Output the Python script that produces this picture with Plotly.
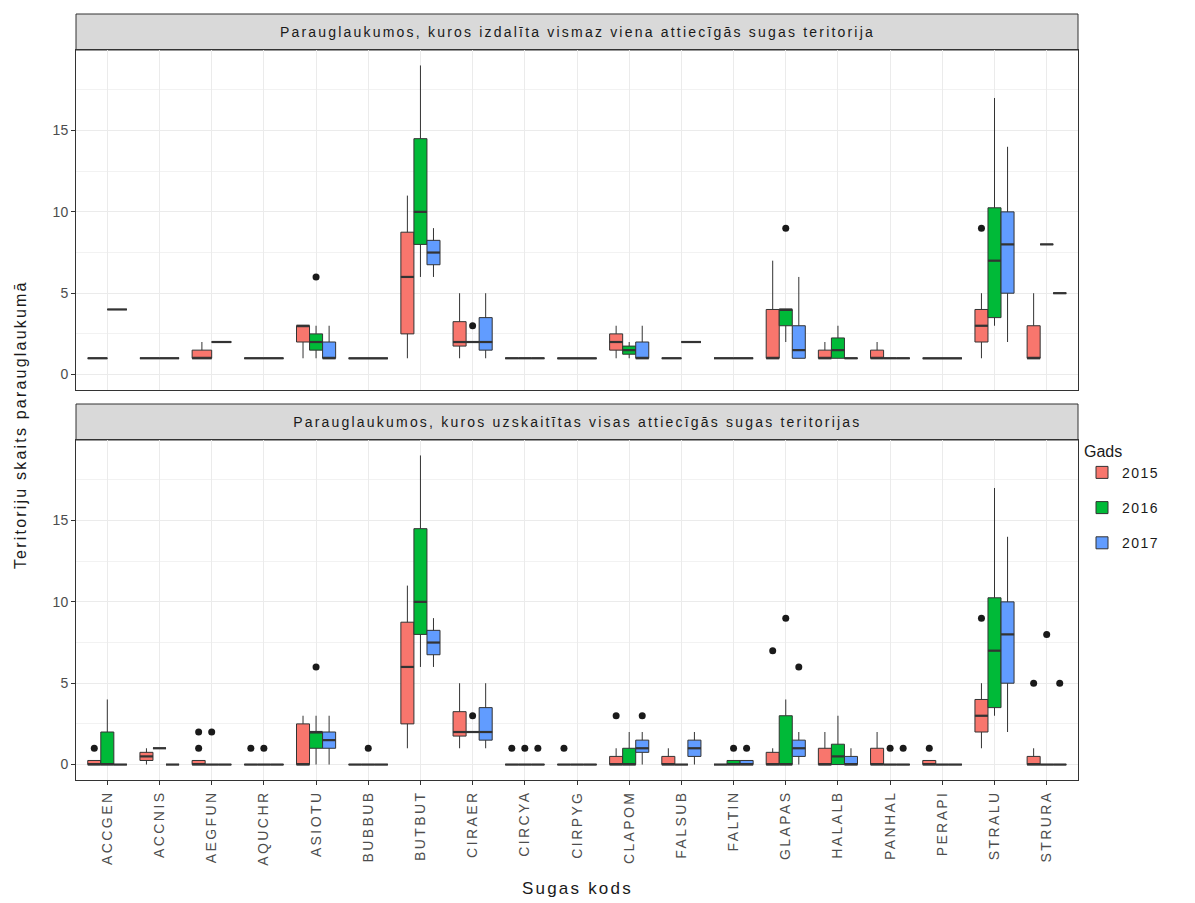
import plotly.graph_objects as go

species = ["ACCGEN", "ACCNIS", "AEGFUN", "AQUCHR", "ASIOTU", "BUBBUB", "BUTBUT",
           "CIRAER", "CIRCYA", "CIRPYG", "CLAPOM", "FALSUB", "FALTIN", "GLAPAS",
           "HALALB", "PANHAL", "PERAPI", "STRALU", "STRURA"]
years = [2015, 2016, 2017]
year_colors = ["#F8766D", "#00BA38", "#619CFF"]

# box stats: (lower whisker, q1, median, q3, upper whisker); single number = all equal; None = absent
top_2015 = [1, 1, (1, 1, 1, 1.5, 2), 1, (1, 2, 3, 3, 3), None, (1, 2.5, 6, 8.75, 11),
            (1, 1.75, 2, 3.25, 5), 1, 1, (1, 1.5, 2, 2.5, 3), 1, None, (1, 1, 1, 4, 7),
            (1, 1, 1, 1.5, 2), (1, 1, 1, 1.5, 2), 1, (1, 2, 3, 4, 5), (1, 1, 1, 3, 5)]
top_2016 = [4, 1, 2, 1, (1, 1.5, 2, 2.5, 3), 1, (6, 8, 10, 14.5, 19),
            2, 1, None, (1, 1.25, 1.5, 1.75, 2), None, 1, (2, 3, 4, 4, 4),
            (1, 1, 1.5, 2.25, 3), 1, None, (3, 3.5, 7, 10.25, 17), 8]
top_2017 = [None, None, None, None, (1, 1, 1, 2, 3), None, (6, 6.75, 7.5, 8.25, 9),
            (1, 1.5, 2, 3.5, 5), 1, None, (1, 1, 1, 2, 3), 2, 1, (1, 1, 1.5, 3, 6),
            1, 1, None, (2, 5, 8, 10, 14), 5]
top_outliers = [("ASIOTU", 2016, 6), ("CIRAER", 2016, 3), ("GLAPAS", 2016, 9),
                ("STRALU", 2015, 9)]

bot_2015 = [(0, 0, 0, 0.25, 0.25), (0, 0.25, 0.5, 0.75, 1), (0, 0, 0, 0.25, 0.25), 0,
            (0, 0, 0, 2.5, 3), 0, (1, 2.5, 6, 8.75, 11), (1, 1.75, 2, 3.25, 5), 0, 0,
            (0, 0, 0, 0.5, 1), (0, 0, 0, 0.5, 1), 0, (0, 0, 0, 0.75, 1), (0, 0, 0, 1, 2),
            (0, 0, 0, 1, 2), (0, 0, 0, 0.25, 0.25), (1, 2, 3, 4, 5), (0, 0, 0, 0.5, 1)]
bot_2016 = [(0, 0, 0, 2, 4), 1, 0, 0, (0, 1, 2, 2, 3), 0, (6, 8, 10, 14.5, 19), 2, 0, 0,
            (0, 0, 0, 1, 2), 0, (0, 0, 0, 0.25, 0.25), (0, 0, 0, 3, 4), (0, 0, 0.5, 1.25, 3),
            0, 0, (3, 3.5, 7, 10.25, 17), 0]
bot_2017 = [0, 0, 0, 0, (0, 1, 1.5, 2, 3), 0, (6, 6.75, 7.5, 8.25, 9), (1, 1.5, 2, 3.5, 5),
            0, 0, (0, 0.75, 1, 1.5, 2), (0, 0.5, 1, 1.5, 2), (0, 0, 0, 0.25, 0.25),
            (0, 0.5, 1, 1.5, 2), (0, 0, 0, 0.5, 1), 0, 0, (2, 5, 8, 10, 14), 0]
bot_outliers = [("ACCGEN", 2015, 1), ("AEGFUN", 2015, 1), ("AEGFUN", 2015, 2),
                ("AEGFUN", 2016, 2), ("AQUCHR", 2015, 1), ("AQUCHR", 2016, 1),
                ("ASIOTU", 2016, 6), ("BUBBUB", 2016, 1), ("CIRAER", 2016, 3),
                ("CIRCYA", 2015, 1), ("CIRCYA", 2016, 1), ("CIRCYA", 2017, 1),
                ("CIRPYG", 2015, 1), ("CLAPOM", 2015, 3), ("CLAPOM", 2017, 3),
                ("FALTIN", 2016, 1), ("FALTIN", 2017, 1), ("GLAPAS", 2015, 7),
                ("GLAPAS", 2016, 9), ("GLAPAS", 2017, 6), ("PANHAL", 2016, 1),
                ("PANHAL", 2017, 1), ("PERAPI", 2015, 1), ("STRALU", 2015, 9),
                ("STRURA", 2015, 5), ("STRURA", 2016, 8), ("STRURA", 2017, 5)]

strip_titles = ["Parauglaukumos, kuros izdalīta vismaz viena attiecīgās sugas teritorija",
                "Parauglaukumos, kuros uzskaitītas visas attiecīgās sugas teritorijas"]
x_title = "Sugas kods"
y_title = "Teritoriju skaits parauglaukumā"
legend_title = "Gads"

facets = [([top_2015, top_2016, top_2017], top_outliers),
          ([bot_2015, bot_2016, bot_2017], bot_outliers)]

DODGE = 0.75
LINE = "#333333"


def expand(v):
    if v is None:
        return None
    if isinstance(v, (int, float)):
        return (v, v, v, v, v)
    return v


def dodge(series, i, k):
    present = [j for j in range(3) if series[j][i] is not None]
    n = len(present)
    w = DODGE / n
    pos = (i + 1) - DODGE / 2 + w * (present.index(k) + 0.5)
    return pos, w


fig = go.Figure()
legend_done = set()
for f, (series, outliers) in enumerate(facets):
    xa = "x" if f == 0 else "x2"
    ya = "y" if f == 0 else "y2"
    med_x, med_y = [], []
    for k, yr in enumerate(years):
        for i, sp in enumerate(species):
            st = expand(series[k][i])
            if st is None:
                continue
            pos, w = dodge(series, i, k)
            lo, q1, med, q3, hi = st
            show = yr not in legend_done
            legend_done.add(yr)
            fig.add_trace(go.Box(
                x=[pos], q1=[q1], median=[med], q3=[q3], lowerfence=[lo], upperfence=[hi],
                width=w * 0.999, whiskerwidth=0, boxpoints=False,
                fillcolor=year_colors[k], line=dict(color=LINE, width=1),
                name=str(yr), legendgroup=str(yr), showlegend=show,
                xaxis=xa, yaxis=ya, hoverinfo="skip"))
            med_x += [pos - w / 2, pos + w / 2, None]
            med_y += [med, med, None]
    fig.add_trace(go.Scatter(x=med_x, y=med_y, mode="lines",
                             line=dict(color=LINE, width=2.2), showlegend=False,
                             xaxis=xa, yaxis=ya, hoverinfo="skip"))
    ox, oy = [], []
    for sp, yr, val in outliers:
        i = species.index(sp)
        k = years.index(yr)
        pos, w = dodge(series, i, k)
        ox.append(pos)
        oy.append(val)
    fig.add_trace(go.Scatter(x=ox, y=oy, mode="markers",
                             marker=dict(color="#1A1A1A", size=7), showlegend=False,
                             xaxis=xa, yaxis=ya, hoverinfo="skip"))

# layout geometry
L, R, T, B = 76, 117, 50, 123
W, H = 1195, 903
ph = H - T - B
top_dom = [(780 - 390) / ph, 1.0]
bot_dom = [0.0, (780 - 440) / ph]

axis_common = dict(showline=True, mirror=True, linecolor=LINE, linewidth=1,
                   showgrid=True, gridcolor="#EBEBEB", gridwidth=1, zeroline=False)
xcommon = dict(range=[0.4, 19.6], tickvals=list(range(1, 20)), ticktext=species, **axis_common)
ycommon = dict(range=[-0.95, 19.95], tickvals=[0, 5, 10, 15], ticks="outside", ticklen=4,
               tickcolor=LINE, tickfont=dict(size=14, color="#4D4D4D"),
               minor=dict(dtick=2.5, tick0=0, showgrid=True, gridcolor="#F2F2F2", gridwidth=0.6),
               **axis_common)

fig.update_layout(
    width=W, height=H,
    margin=dict(l=L, r=R, t=T, b=B),
    paper_bgcolor="white", plot_bgcolor="white",
    font=dict(family="Liberation Sans, Arial, sans-serif", color="#1A1A1A"),
    boxmode="overlay",
    xaxis=dict(domain=[0, 1], anchor="y", showticklabels=False, ticks="", **xcommon),
    xaxis2=dict(domain=[0, 1], anchor="y2", matches="x", showticklabels=True, ticks="outside",
                ticklen=4, tickcolor=LINE, tickangle=-90,
                tickfont=dict(size=14, color="#4D4D4D"), **xcommon),
    yaxis=dict(domain=top_dom, anchor="x", **ycommon),
    yaxis2=dict(domain=bot_dom, anchor="x2", **ycommon),
    legend=dict(x=1.004, y=(780 - 436) / ph, xanchor="left", yanchor="top",
                title=dict(text=legend_title, font=dict(size=16, color="#1A1A1A")),
                font=dict(size=14, color="#1A1A1A"), traceorder="grouped",
                tracegroupgap=14, bgcolor="rgba(0,0,0,0)"),
)

shapes = []
annotations = []
for f, (ytop_px, ybot_px) in enumerate([(14, 50), (404, 440)]):
    y0 = (780 - ybot_px) / ph
    y1 = (780 - ytop_px) / ph
    shapes.append(dict(type="rect", xref="paper", yref="paper", x0=0, x1=1, y0=y0, y1=y1,
                       fillcolor="#D9D9D9", line=dict(color=LINE, width=1), layer="below"))
    annotations.append(dict(text=strip_titles[f], xref="paper", yref="paper", x=0.5,
                            y=(y0 + y1) / 2, showarrow=False,
                            font=dict(size=14, color="#1A1A1A"), xanchor="center",
                            yanchor="middle"))
annotations.append(dict(text=x_title, xref="paper", yref="paper", x=0.5,
                        y=(780 - 888) / ph, showarrow=False, font=dict(size=17),
                        xanchor="center", yanchor="middle"))
annotations.append(dict(text=y_title, xref="paper", yref="paper", x=(20 - L) / (W - L - R),
                        y=(780 - 425) / ph, showarrow=False, font=dict(size=16),
                        textangle=-90, xanchor="center", yanchor="middle"))
fig.update_layout(shapes=shapes, annotations=annotations)

# the reference renders text with loose letter spacing
post = """
var gd = document.getElementById('{plot_id}');
function spaceText() {
  gd.querySelectorAll('.annotation-text').forEach(function(t){ t.style.letterSpacing = '2.2px'; });
  gd.querySelectorAll('.xtick text, .x2tick text').forEach(function(t){ t.style.letterSpacing = '2.4px'; });
  gd.querySelectorAll('.legendtext').forEach(function(t){ t.style.letterSpacing = '1.5px'; });
}
spaceText();
gd.on('plotly_afterplot', spaceText);
"""
fig.write_html("out.html", post_script=post)
